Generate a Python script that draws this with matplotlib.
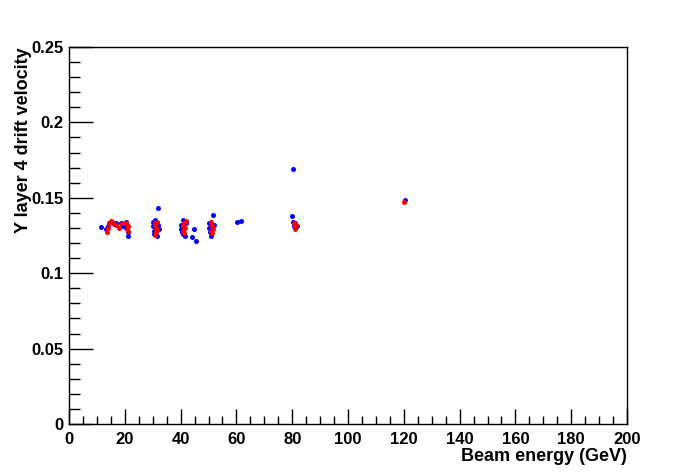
import numpy as np
import matplotlib.pyplot as plt
from matplotlib.ticker import MultipleLocator

plt.rcParams['font.family'] = ['Liberation Sans', 'DejaVu Sans']

# blue series: all runs
blue_e = [11.5, 13.2, 13.8, 14.5, 15.5, 16.2, 17.0, 18.5, 19.5, 20.3, 20.5, 21.0, 21.3, 20.8,
          32.0, 30.0, 30.2, 30.3, 30.5, 31.0, 31.5, 32.0, 32.3,
          40.0, 40.2, 40.5, 41.0, 41.5, 42.0, 40.8, 44.8, 44.2, 45.5,
          51.6, 50.0, 50.2, 50.5, 51.0, 51.8,
          60.3, 61.6,
          80.4, 80.0, 80.2, 80.5, 81.8, 81.0,
          120.4]
blue_v = [0.1306, 0.1290, 0.1310, 0.1335, 0.1340, 0.1325, 0.1330, 0.1335, 0.1310, 0.1340, 0.1300, 0.1270, 0.1250, 0.1320,
          0.1434, 0.1340, 0.1310, 0.1280, 0.1260, 0.1350, 0.1250, 0.1320, 0.1290,
          0.1320, 0.1290, 0.1270, 0.1350, 0.1250, 0.1330, 0.1260, 0.1290, 0.1240, 0.1214,
          0.1386, 0.1330, 0.1300, 0.1270, 0.1250, 0.1320,
          0.1337, 0.1346,
          0.1690, 0.1380, 0.1340, 0.1310, 0.1310, 0.1330,
          0.1485]

# red series
red_e = [13.5, 14.0, 14.2, 15.0, 15.8, 17.0, 18.0, 18.9, 20.5, 20.7, 21.0, 21.2,
         30.8, 31.0, 31.2, 31.5, 31.3, 31.7, 31.0,
         40.8, 41.2, 41.0, 41.5, 42.0, 41.3,
         50.8, 51.2, 51.0, 51.5, 51.2,
         80.8, 81.0, 80.9, 81.2,
         120.1]
red_v = [0.1275, 0.1300, 0.1330, 0.1345, 0.1335, 0.1320, 0.1300, 0.1335, 0.1330, 0.1290, 0.1310, 0.1280,
         0.1335, 0.1320, 0.1300, 0.1285, 0.1270, 0.1340, 0.1255,
         0.1310, 0.1330, 0.1280, 0.1300, 0.1345, 0.1265,
         0.1340, 0.1310, 0.1280, 0.1295, 0.1265,
         0.1335, 0.1315, 0.1295, 0.1320,
         0.1470]

fig = plt.figure(figsize=(6.96, 4.72), dpi=100)
ax = fig.add_axes([69 / 696, 1 - 424 / 472, 558 / 696, 377 / 472])

ax.plot(blue_e, blue_v, 'o', color='#0000ff', ms=3.6, mec='none', ls='none')
ax.plot(red_e, red_v, 'o', color='#ff0000', ms=3.6, mec='none', ls='none')

ax.set_xlim(0, 200)
ax.set_ylim(0, 0.25)
ax.xaxis.set_major_locator(MultipleLocator(20))
ax.xaxis.set_minor_locator(MultipleLocator(5))
ax.yaxis.set_major_locator(MultipleLocator(0.05))
ax.yaxis.set_minor_locator(MultipleLocator(0.01))


def yfmt(v, pos):
    return ('%.2f' % v).rstrip('0').rstrip('.')


ax.yaxis.set_major_formatter(plt.FuncFormatter(yfmt))

ax.tick_params(axis='x', which='major', direction='in', length=11, width=1, pad=6,
               labelsize=12, top=False)
ax.tick_params(axis='x', which='minor', direction='in', length=5.5, width=1, top=False)
ax.tick_params(axis='y', which='major', direction='in', length=17, width=1, pad=4,
               labelsize=12, right=False)
ax.tick_params(axis='y', which='minor', direction='in', length=8, width=1, right=False)
for lab in ax.get_xticklabels() + ax.get_yticklabels():
    lab.set_fontweight('bold')
for sp in ax.spines.values():
    sp.set_linewidth(1)
    sp.set_color('black')

ax.text(1.0, -0.085, 'Beam energy (GeV)', transform=ax.transAxes, ha='right', va='center',
        fontsize=13, fontweight='bold')
ax.text(-0.082, 1.0, 'Y layer 4 drift velocity', transform=ax.transAxes, ha='center', va='top',
        rotation=90, fontsize=13, fontweight='bold')

fig.savefig('out.png', dpi=100)
